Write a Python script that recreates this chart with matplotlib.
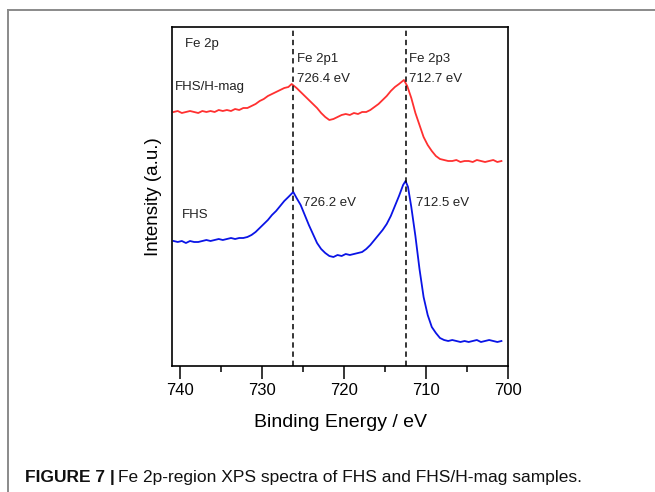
import matplotlib.pyplot as plt
from matplotlib.lines import Line2D
from matplotlib.ticker import MultipleLocator

plt.rcParams['font.family'] = ['Liberation Sans', 'DejaVu Sans']

# binding energies (eV) and intensities (a.u., stacked)
energia_mag = [740.8, 740.3, 739.8, 739.3, 738.8, 738.3, 737.8, 737.3, 736.8, 736.3,
               735.8, 735.3, 734.8, 734.3, 733.8, 733.3, 732.8, 732.3, 731.8, 731.3,
               730.8, 730.3, 729.8, 729.3, 728.8, 728.3, 727.8, 727.3, 726.8, 726.4,
               725.8, 725.3, 724.8, 724.3, 723.8, 723.3, 722.8, 722.3, 721.8, 721.3,
               720.8, 720.3, 719.8, 719.3, 718.8, 718.3, 717.8, 717.3, 716.8, 716.3,
               715.8, 715.3, 714.8, 714.3, 713.8, 713.3, 712.7, 712.3, 711.8, 711.3,
               710.8, 710.3, 709.8, 709.3, 708.8, 708.3, 707.8, 707.3, 706.8, 706.3,
               705.8, 705.3, 704.8, 704.3, 703.8, 703.3, 702.8, 702.3, 701.8, 701.3,
               700.8]
intensidad_mag = [254, 255, 253, 254, 255, 254, 253, 255, 254, 255,
                  254, 256, 255, 256, 255, 257, 256, 258, 258, 260,
                  262, 265, 267, 270, 272, 274, 276, 278, 279, 282,
                  278, 274, 270, 266, 262, 258, 253, 249, 246, 247,
                  249, 251, 252, 251, 253, 252, 254, 254, 256, 259,
                  262, 266, 270, 275, 279, 282, 286, 280, 268, 253,
                  241, 229, 221, 215, 210, 207, 206, 205, 205, 206,
                  204, 205, 205, 204, 206, 205, 204, 205, 206, 204,
                  205]

energia_fhs = [740.8, 740.3, 739.8, 739.3, 738.8, 738.3, 737.8, 737.3, 736.8, 736.3,
               735.8, 735.3, 734.8, 734.3, 733.8, 733.3, 732.8, 732.3, 731.8, 731.3,
               730.8, 730.3, 729.8, 729.3, 728.8, 728.3, 727.8, 727.3, 726.8, 726.2,
               725.8, 725.3, 724.8, 724.3, 723.8, 723.3, 722.8, 722.3, 721.8, 721.3,
               720.8, 720.3, 719.8, 719.3, 718.8, 718.3, 717.8, 717.3, 716.8, 716.3,
               715.8, 715.3, 714.8, 714.3, 713.8, 713.3, 712.8, 712.5, 712.2, 711.8,
               711.3, 710.8, 710.3, 709.8, 709.3, 708.8, 708.3, 707.8, 707.3, 706.8,
               706.3, 705.8, 705.3, 704.8, 704.3, 703.8, 703.3, 702.8, 702.3, 701.8,
               701.3, 700.8]
intensidad_fhs = [125, 124, 125, 123, 125, 124, 124, 125, 126, 125,
                  126, 127, 126, 127, 128, 127, 128, 128, 129, 131,
                  134, 138, 142, 146, 151, 155, 160, 165, 169, 174,
                  168, 161, 151, 141, 132, 123, 117, 113, 110, 109,
                  111, 110, 112, 111, 112, 113, 114, 117, 121, 126,
                  131, 136, 142, 150, 160, 170, 181, 185, 179, 159,
                  130, 97, 69, 51, 39, 33, 28, 26, 25, 26,
                  25, 24, 25, 24, 25, 26, 24, 25, 26, 25,
                  24, 25]

picos = [726.2, 712.5]

fig = plt.figure(figsize=(6.55, 4.92), dpi=100)
ax = fig.add_axes([172 / 655, 1 - 366 / 492, 336 / 655, 339 / 492])

ax.plot(energia_mag, intensidad_mag, color='#ff3030', lw=1.3)
ax.plot(energia_fhs, intensidad_fhs, color='#0a14e6', lw=1.3)
for p in picos:
    ax.axvline(p, color='black', lw=1.1, ls=(0, (3.5, 2.5)))

ax.set_xlim(741, 700)
ax.set_ylim(0, 339)
ax.xaxis.set_major_locator(MultipleLocator(10))
ax.xaxis.set_minor_locator(MultipleLocator(5))
ax.tick_params(axis='x', which='major', direction='out', length=9.5, width=1.1,
               labelsize=12, pad=2.5)
ax.tick_params(axis='x', which='minor', direction='out', length=4.5, width=1.1)
ax.tick_params(axis='y', left=False, labelleft=False)
for s in ax.spines.values():
    s.set_linewidth(1.2)

ax.set_xlabel('Binding Energy / eV', fontsize=14, labelpad=12)
ax.set_ylabel('Intensity (a.u.)', fontsize=13.5, labelpad=7)

txt = dict(fontsize=9.5, color='#222222', va='center', ha='left')
ax.text(739.4, 322, 'Fe 2p', **txt)
ax.text(740.6, 279, 'FHS/H-mag', **txt)
ax.text(739.8, 151, 'FHS', **txt)
ax.text(725.8, 307, 'Fe 2p1', **txt)
ax.text(725.8, 287, '726.4 eV', **txt)
ax.text(712.1, 307, 'Fe 2p3', **txt)
ax.text(712.1, 287, '712.7 eV', **txt)
ax.text(725.0, 163, '726.2 eV', **txt)
ax.text(711.2, 163, '712.5 eV', **txt)

# marco gris de la figura
fig.add_artist(Line2D([8 / 655, 1], [1 - 10 / 492, 1 - 10 / 492],
                      color='#8a8a8a', lw=1.4, transform=fig.transFigure))
fig.add_artist(Line2D([8 / 655, 8 / 655], [0, 1 - 10 / 492],
                      color='#8a8a8a', lw=1.4, transform=fig.transFigure))

# pie de figura
t1 = fig.text(25 / 655, 1 - 482 / 492, 'FIGURE 7 |', fontsize=12.5, fontweight='bold',
              va='baseline', ha='left', color='#111111')
fig.canvas.draw()
bb = t1.get_window_extent()
fig.text((bb.x1 + 3) / fig.bbox.width, 1 - 482 / 492,
         'Fe 2p-region XPS spectra of FHS and FHS/H-mag samples.',
         fontsize=12.5, va='baseline', ha='left', color='#111111')

fig.savefig('out.png', dpi=100)
